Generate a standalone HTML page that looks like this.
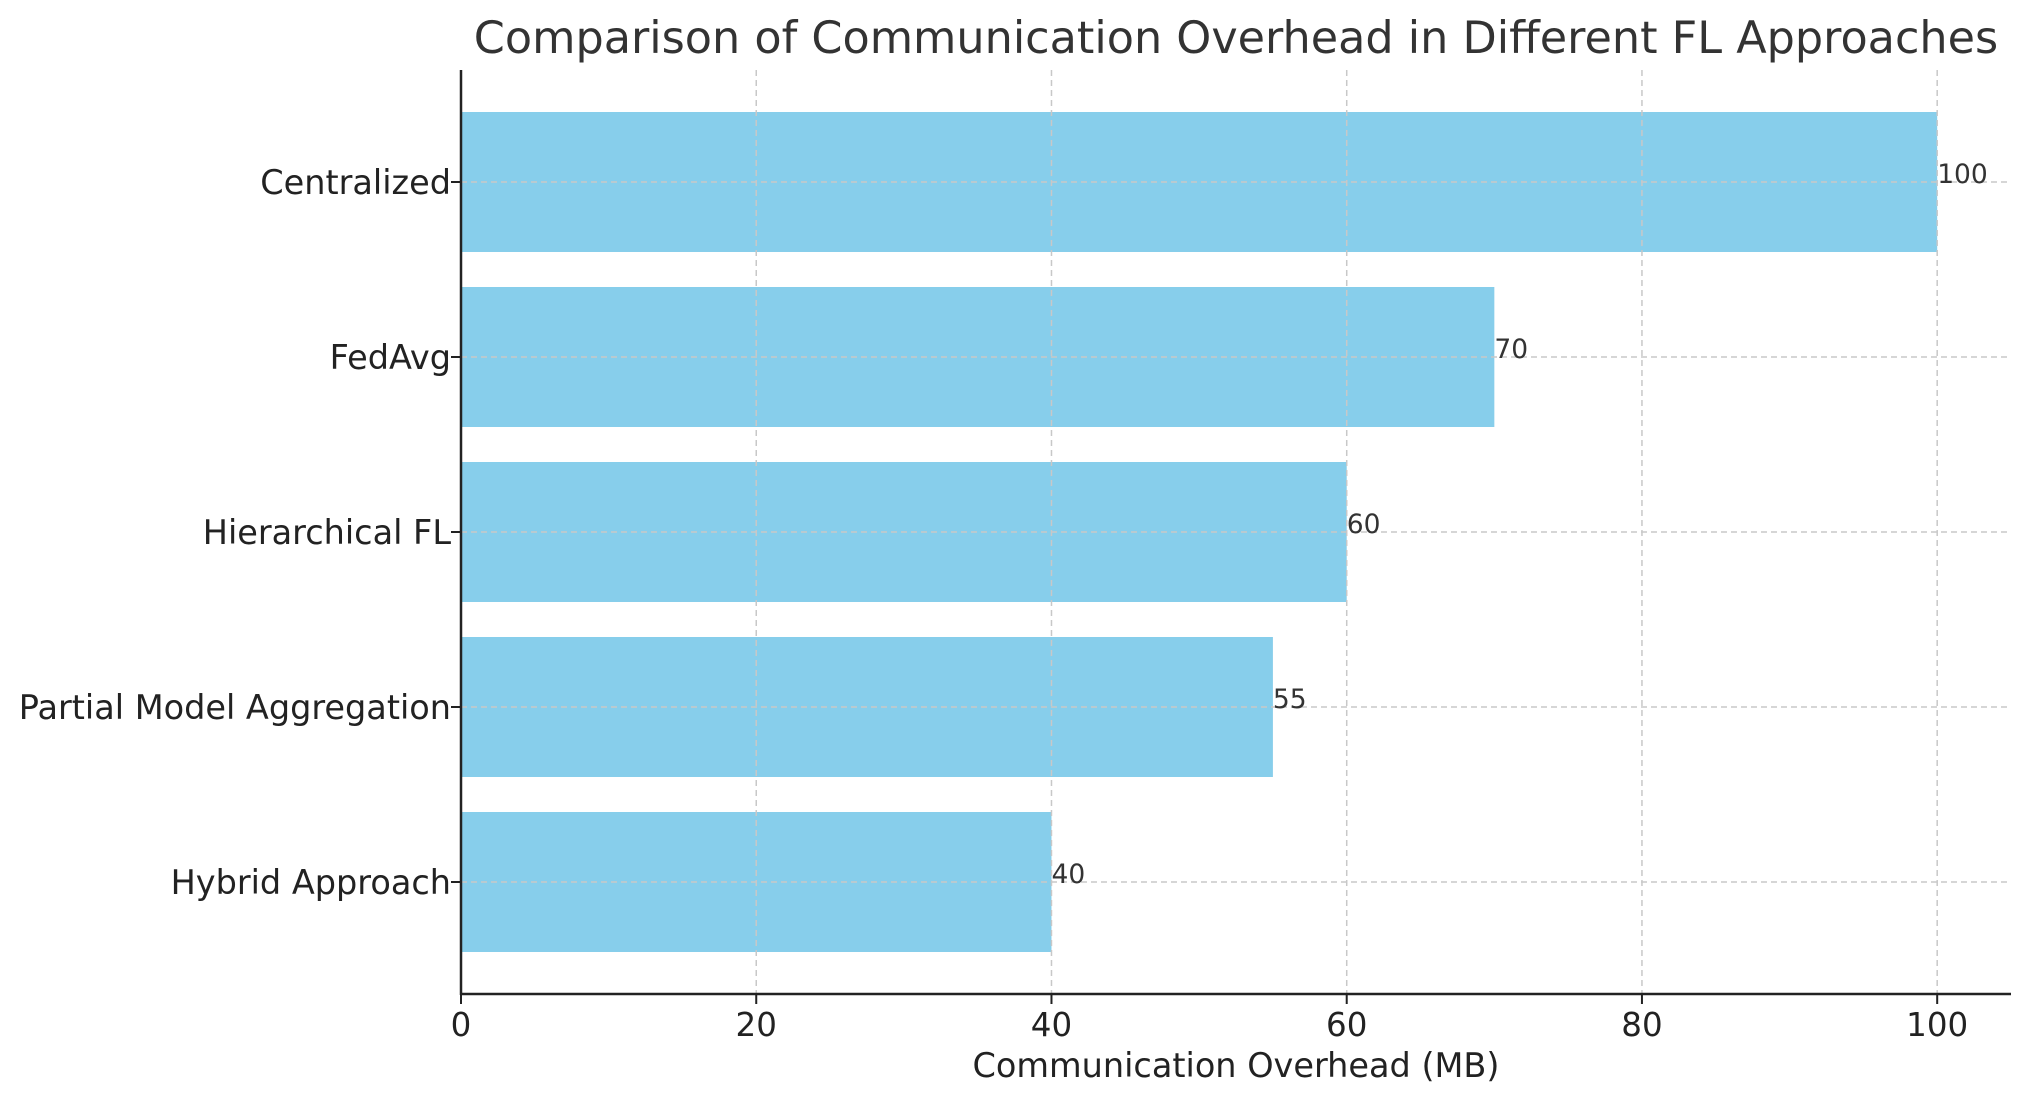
<!DOCTYPE html>
<html><head><meta charset="utf-8"><style>
html,body{margin:0;padding:0;background:#fff;}
svg{display:block;font-family:"DejaVu Sans","Liberation Sans",sans-serif;}
</style></head><body>
<svg id="chart" width="2030" height="1101" viewBox="0 0 2030 1101" xmlns="http://www.w3.org/2000/svg">
<rect width="2030" height="1101" fill="#fff"/>
<text x="1236" y="53" text-anchor="middle" font-size="44.5" fill="#333">Comparison of Communication Overhead in Different FL Approaches</text>
<g id="bars"></g><g id="grid"></g><g id="labels"></g><g id="axes"></g>
<text x="1236" y="1077" text-anchor="middle" font-size="33.5" fill="#222">Communication Overhead (MB)</text>
</svg>
<script>
const categories = ["Centralized","FedAvg","Hierarchical FL","Partial Model Aggregation","Hybrid Approach"];
const values = [100,70,60,55,40];
const xTicks = [0,20,40,60,80,100];
const X0=461, X1=2011, Y0=70, Y1=994, XMIN=0, XMAX=105;
const n=categories.length;
const yMin=-0.64, yMax=n-1+0.64;
function sx(v){return X0+(v-XMIN)/(XMAX-XMIN)*(X1-X0);}
function sy(i){return Y0+(i-yMin)/(yMax-yMin)*(Y1-Y0);}
const bandH=(sy(1)-sy(0))*0.8;
const NS="http://www.w3.org/2000/svg";
function mk(tag,attrs,parent,txt){const e=document.createElementNS(NS,tag);for(const k in attrs)e.setAttribute(k,attrs[k]);if(txt!==undefined)e.textContent=txt;document.getElementById(parent).appendChild(e);return e;}
categories.forEach((c,i)=>{
  const b=mk('rect',{x:sx(0),y:sy(i)-bandH/2,width:sx(values[i])-sx(0),height:bandH,fill:'#87ceeb'},'bars');
  
  
  const g=mk('line',{x1:X0,x2:X1,y1:sy(i),y2:sy(i),stroke:'#c8c8c8','stroke-width':1.5,'stroke-dasharray':'6,4'},'grid');
  
  
  const t=mk('text',{x:X0-10,y:sy(i)+12,'text-anchor':'end','font-size':33.5,fill:'#222'},'labels',c);
  
  
  const tk=mk('line',{x1:X0-10,x2:X0,y1:sy(i),y2:sy(i),stroke:'#222','stroke-width':2},'axes');
  
  
  const v=mk('text',{x:sx(values[i]),y:sy(i)+1,'font-size':26.5,fill:'#333'},'labels',String(values[i]));
  
  
});
xTicks.forEach(t=>{
  const g=mk('line',{x1:sx(t),x2:sx(t),y1:Y0,y2:Y1,stroke:'#c8c8c8','stroke-width':1.5,'stroke-dasharray':'6,4'},'grid');
  
  
  const tk=mk('line',{x1:sx(t),x2:sx(t),y1:Y1,y2:Y1+10,stroke:'#222','stroke-width':2},'axes');
  
  
  const l=mk('text',{x:sx(t),y:Y1+42,'text-anchor':'middle','font-size':32.5,fill:'#222'},'labels',String(t));
  
  
});
const ly=mk('line',{x1:X0,x2:X0,y1:Y0,y2:Y1+1,stroke:'#222','stroke-width':2.5},'axes');


const lx=mk('line',{x1:X0-1,x2:X1,y1:Y1,y2:Y1,stroke:'#222','stroke-width':2.5},'axes');


</script>
</body></html>
